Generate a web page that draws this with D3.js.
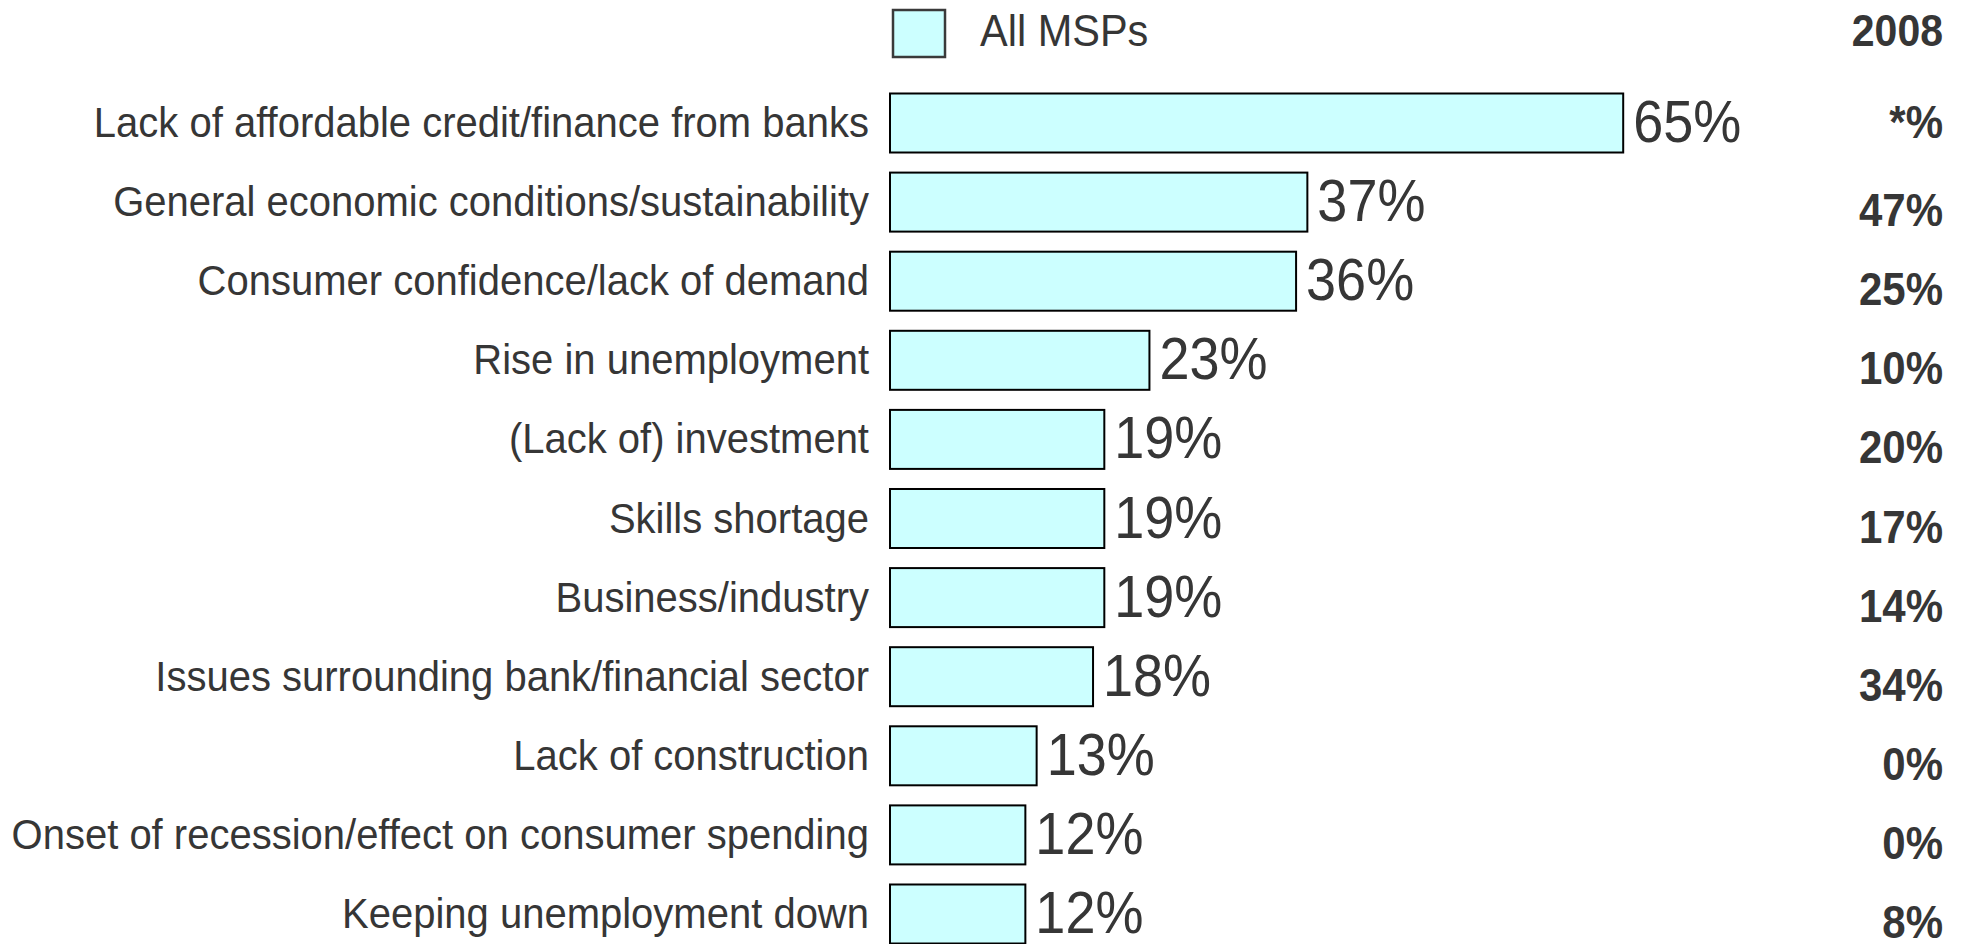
<!DOCTYPE html>
<html>
<head>
<meta charset="utf-8">
<script src="https://cdn.jsdelivr.net/npm/d3@7"></script>
<style>
  html, body { margin: 0; padding: 0; background: #ffffff; overflow: hidden; }
  svg { display: block; }
  text { font-family: "Liberation Sans", Arial, Helvetica, sans-serif; fill: #363636; }
</style>
</head>
<body>
<svg id="chart" width="1964" height="944"></svg>
<script>
// ---- data ----
const categories = [
  "Lack of affordable credit/finance from banks",
  "General economic conditions/sustainability",
  "Consumer confidence/lack of demand",
  "Rise in unemployment",
  "(Lack of) investment",
  "Skills shortage",
  "Business/industry",
  "Issues surrounding bank/financial sector",
  "Lack of construction",
  "Onset of recession/effect on consumer spending",
  "Keeping unemployment down"
];
const allMSPs = [65, 37, 36, 23, 19, 19, 19, 18, 13, 12, 12];
const values2008 = [null, 47, 25, 10, 20, 17, 14, 34, 0, 0, 8];
const seriesName = "All MSPs";
const comparisonHeader = "2008";

// ---- layout ----
const svg = d3.select("#chart");
const barFill = "#ccffff";
const stretch = 1.08; // text in the reference is slightly taller than wide

const x = d3.scaleLinear().domain([0, 100]).range([890, 890 + 1128]);
const y = d3.scaleBand()
  .domain(categories)
  .range([83.45, 83.45 + 11 * 79.1])
  .paddingInner(0.254)
  .paddingOuter(0.127);

function place(sel, fx, fy) {
  sel.attr("transform", (d, i) => `translate(${fx(d, i)},${fy(d, i)}) scale(1,${stretch})`);
}

// legend
const legend = svg.append("g");
legend.append("rect")
  .attr("x", 893).attr("y", 10)
  .attr("width", 52).attr("height", 47)
  .attr("fill", barFill)
  .attr("stroke", "#3a3a3a").attr("stroke-width", 2.5);
legend.append("text")
  .attr("transform", `translate(980,46) scale(1,${stretch})`)
  .attr("font-size", 41.5)
  .text(seriesName);

// comparison header
svg.append("text")
  .attr("transform", `translate(1943,46) scale(1,${stretch})`)
  .attr("text-anchor", "end")
  .attr("font-size", 41)
  .attr("font-weight", "bold")
  .text(comparisonHeader);

// bars
svg.append("g").selectAll("rect")
  .data(allMSPs)
  .join("rect")
  .attr("x", x(0))
  .attr("y", (d, i) => y(categories[i]))
  .attr("width", d => x(d) - x(0))
  .attr("height", y.bandwidth())
  .attr("fill", barFill)
  .attr("stroke", "#000")
  .attr("stroke-width", 2);

// category labels
svg.append("g").selectAll("text")
  .data(categories)
  .join("text")
  .call(place, () => 869, d => y(d) + y.bandwidth() / 2 + 14)
  .attr("text-anchor", "end")
  .attr("font-size", 40)
  .text(d => d);

// value labels
svg.append("g").selectAll("text")
  .data(allMSPs)
  .join("text")
  .call(place, d => x(d) + 10, (d, i) => y(categories[i]) + y.bandwidth() / 2 + 19)
  .attr("font-size", 54)
  .text(d => d + "%");

// 2008 comparison column
svg.append("g").selectAll("text")
  .data(values2008)
  .join("text")
  .call(place, () => 1943, (d, i) => y(categories[i]) + y.bandwidth() / 2 + (d === null ? 15 : 24))
  .attr("text-anchor", "end")
  .attr("font-size", 42)
  .attr("font-weight", "bold")
  .text(d => (d === null ? "*" : d) + "%");
</script>
</body>
</html>
